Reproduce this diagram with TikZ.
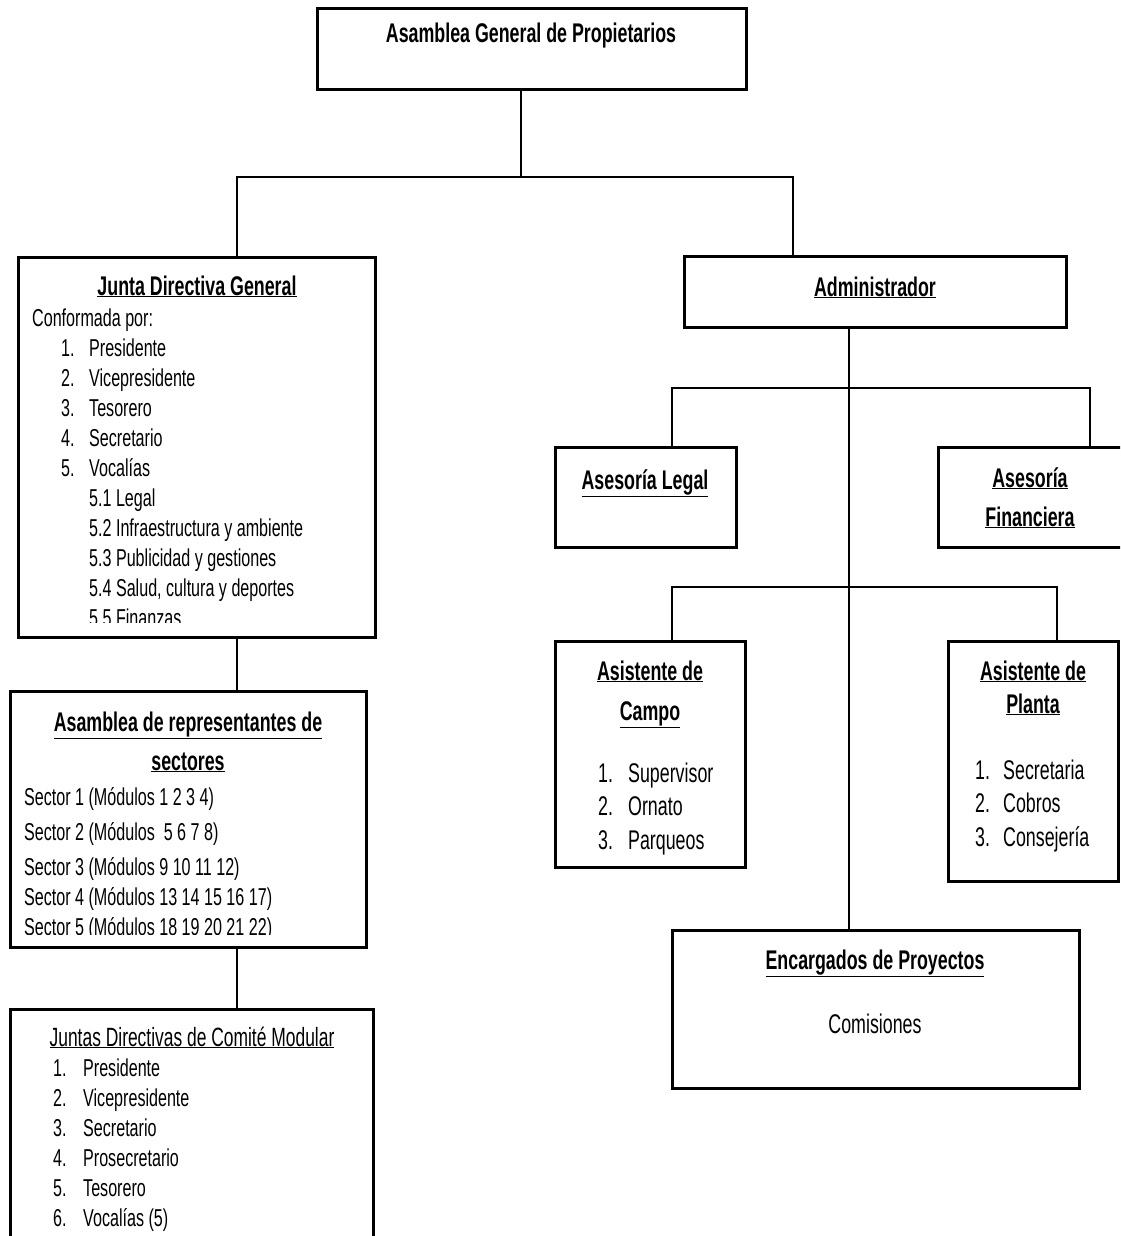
\documentclass[tikz,border=0pt]{standalone}
\usepackage{fontspec}
\setmainfont{Liberation Sans}[FakeStretch=0.66]
\usepackage{array}
\tikzset{
  caja/.style={draw, line width=3pt, rectangle, anchor=north west, inner sep=0pt, outer sep=0pt},
  linea/.style={line width=1.2pt},
  titulo/.style={font=\fontsize{27}{30}\selectfont\bfseries, anchor=base, inner sep=0pt},
  texto/.style={font=\fontsize{24.4}{30}\selectfont, anchor=base west, inner sep=0pt},
}
\begin{document}
\begin{tikzpicture}[x=1pt, y=-1pt]
    % 画面の範囲
    \useasboundingbox (0,0) rectangle (1120,1236);
    \clip (0,0) rectangle (1120,1236);

    % 箱の描画
    \node[caja, minimum width=429pt, minimum height=81pt] (agp) at (317,9) {};
    \node[caja, minimum width=357pt, minimum height=380pt] (jdg) at (18,257) {};
    \node[caja, minimum width=356pt, minimum height=256pt] (arep) at (10,691) {};
    \node[caja, minimum width=363pt, minimum height=300pt] (jcm) at (10,1009) {};
    \node[caja, minimum width=382pt, minimum height=71pt] (adm) at (684,256) {};
    \node[caja, minimum width=181pt, minimum height=100pt] (legal) at (555,447) {};
    \node[caja, minimum width=200pt, minimum height=100pt] (fin) at (938,447) {};
    \node[caja, minimum width=190pt, minimum height=226pt] (campo) at (555,641) {};
    \node[caja, minimum width=170pt, minimum height=240pt] (planta) at (948,641) {};
    \node[caja, minimum width=407pt, minimum height=158pt] (enc) at (672,930) {};

    % 線の描画
    \coordinate (r1) at (521,177);
    \coordinate (r1l) at (237,177);
    \coordinate (r1r) at (793,177);
    \coordinate (r2) at (849,388);
    \coordinate (r2l) at (672,388);
    \coordinate (r2r) at (1090,388);
    \coordinate (r3l) at (672,587);
    \coordinate (r3r) at (1057,587);
    \draw[linea] (agp.south -| r1) -- (r1);
    \draw[linea] (jdg.north -| r1l) -- (r1l) -- (r1r) -- (adm.north -| r1r);
    \draw[linea] (jdg.south -| r1l) -- (arep.north -| r1l);
    \draw[linea] (arep.south -| r1l) -- (jcm.north -| r1l);
    \draw[linea] (adm.south -| r2) -- (enc.north -| r2);
    \draw[linea] (legal.north -| r2l) -- (r2l) -- (r2r) -- (fin.north -| r2r);
    \draw[linea] (campo.north -| r3l) -- (r3l) -- (r3r) -- (planta.north -| r3r);

    % 見出し
    \node[titulo] (tagp) at (531,43) {Asamblea General de Propietarios};
    \node[titulo] (tjdg) at (197,295) {\underline{Junta Directiva General}};
    \node[titulo] (tarep1) at (188,731) {\underline{Asamblea de representantes de}};
    \node[titulo] (tarep2) at (188,770) {\underline{sectores}};
    \node[titulo, font=\fontsize{26.4}{30}\selectfont] (tjcm) at (192,1046) {\underline{Juntas Directivas de Comité Modular}};
    \node[titulo] (tadm) at (875,296) {\underline{Administrador}};
    \node[titulo] (tlegal) at (645,489) {\underline{Asesoría Legal}};
    \node[titulo] (tfin1) at (1030,487) {\underline{Asesoría}};
    \node[titulo] (tfin2) at (1030,526) {\underline{Financiera}};
    \node[titulo] (tcampo1) at (650,680) {\underline{Asistente de}};
    \node[titulo] (tcampo2) at (650,720) {\underline{Campo}};
    \node[titulo] (tplanta1) at (1033,680) {\underline{Asistente de}};
    \node[titulo] (tplanta2) at (1033,713) {\underline{Planta}};
    \node[titulo] (tenc) at (875,969) {\underline{Encargados de Proyectos}};
    \node[titulo, font=\fontsize{27}{30}\selectfont] (tcom) at (875,1033) {Comisiones};

    % 一覧
    \begin{scope}
    \clip (18,257) rectangle (375,622);
    \node[texto] (ljdg) at (32,326) {\begin{tabular}[t]{@{\hspace{29pt}}p{28pt}@{}l@{}}
      \multicolumn{2}{@{}l@{}}{Conformada por:}\\
      1. & Presidente\\
      2. & Vicepresidente\\
      3. & Tesorero\\
      4. & Secretario\\
      5. & Vocalías\\
         & 5.1 Legal\\
         & 5.2 Infraestructura y ambiente\\
         & 5.3 Publicidad y gestiones\\
         & 5.4 Salud, cultura y deportes\\
         & 5.5 Finanzas
    \end{tabular}};
    \end{scope}

    \begin{scope}
    \clip (10,691) rectangle (366,934);
    \node[texto, font=\fontsize{24.4}{35}\selectfont] (lsect) at (24,805) {\begin{tabular}[t]{@{}l@{}}
      Sector 1 (Módulos 1 2 3 4)\\
      Sector 2 (Módulos \ 5 6 7 8)\\
      Sector 3 (Módulos 9 10 11 12)\\[-5pt]
      Sector 4 (Módulos 13 14 15 16 17)\\[-5pt]
      Sector 5 (Módulos 18 19 20 21 22)
    \end{tabular}};
    \end{scope}

    \node[texto] (ljcm) at (53,1076) {\begin{tabular}[t]{@{}p{30pt}@{}l@{}}
      1. & Presidente\\
      2. & Vicepresidente\\
      3. & Secretario\\
      4. & Prosecretario\\
      5. & Tesorero\\
      6. & Vocalías (5)
    \end{tabular}};

    \node[texto, font=\fontsize{27}{33.5}\selectfont] (lcampo) at (598,782) {\begin{tabular}[t]{@{}p{30pt}@{}l@{}}
      1. & Supervisor\\
      2. & Ornato\\
      3. & Parqueos
    \end{tabular}};

    \node[texto, font=\fontsize{27}{33.5}\selectfont] (lplanta) at (975,779) {\begin{tabular}[t]{@{}p{28pt}@{}l@{}}
      1. & Secretaria\\
      2. & Cobros\\
      3. & Consejería
    \end{tabular}};
\end{tikzpicture}
\end{document}
